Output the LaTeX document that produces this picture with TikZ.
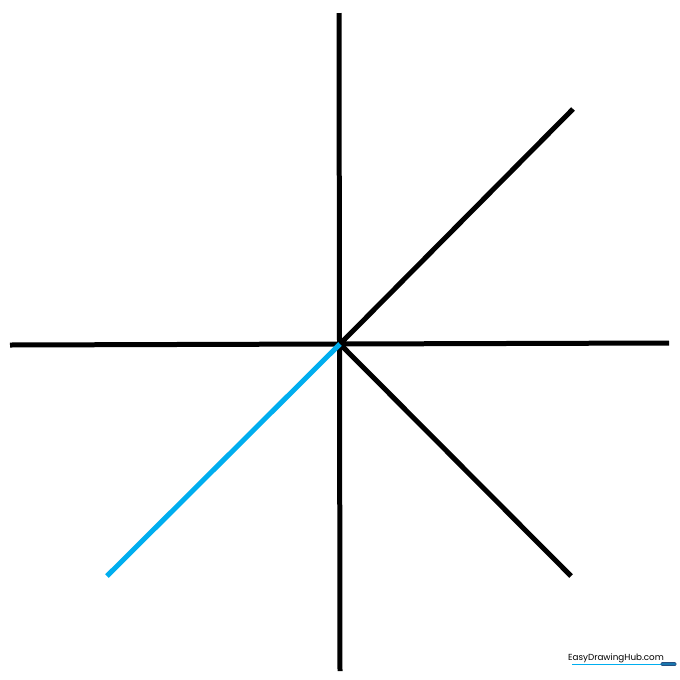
\documentclass[tikz,border=0pt]{standalone}
\usepackage{fontspec}
\newfontfamily\markfont{Poppins}
\usepackage{tikz}
\usetikzlibrary{calc,positioning}

\definecolor{skyline}{RGB}{0,174,239}
\definecolor{penblue}{RGB}{40,80,130}

\tikzset{
  axisline/.style={line width=0.1cm,black},
  stepline/.style={line width=0.1cm,skyline}
}

\begin{document}
\begin{tikzpicture}[x=0.02cm,y=-0.02cm]

    \useasboundingbox[fill=white] (0,0) rectangle (680,680);

    \coordinate (c) at (340,344);
    \coordinate (top) at (339,13);
    \coordinate (bottom) at (340,671);
    \coordinate (left) at (10,345);
    \coordinate (right) at (669,343);
    \coordinate (ne) at (573,109);
    \coordinate (se) at (571,576);
    \coordinate (sw) at (107,576);

    \draw[axisline] (top) -- (bottom);
    \draw[axisline] (left) -- (right);
    \draw[axisline] (c) -- (ne);
    \draw[axisline] (c) -- (se);
    \draw[stepline] (c) -- (sw);

    % watermark
    \node (mark) at (616,658.5) [inner sep=0pt] {\markfont\fontsize{5}{6}\selectfont EasyDrawingHub.com};
    \coordinate (ulstart) at (572,664);
    \coordinate (ulend) at (662,664);
    \draw[skyline,line width=0.3pt] (ulstart) -- (ulend);
    \draw[penblue,fill=penblue!60!skyline,line width=0.3pt,rounded corners=0.5pt] (661,662.5) rectangle (676,665.5);

\end{tikzpicture}
\end{document}
